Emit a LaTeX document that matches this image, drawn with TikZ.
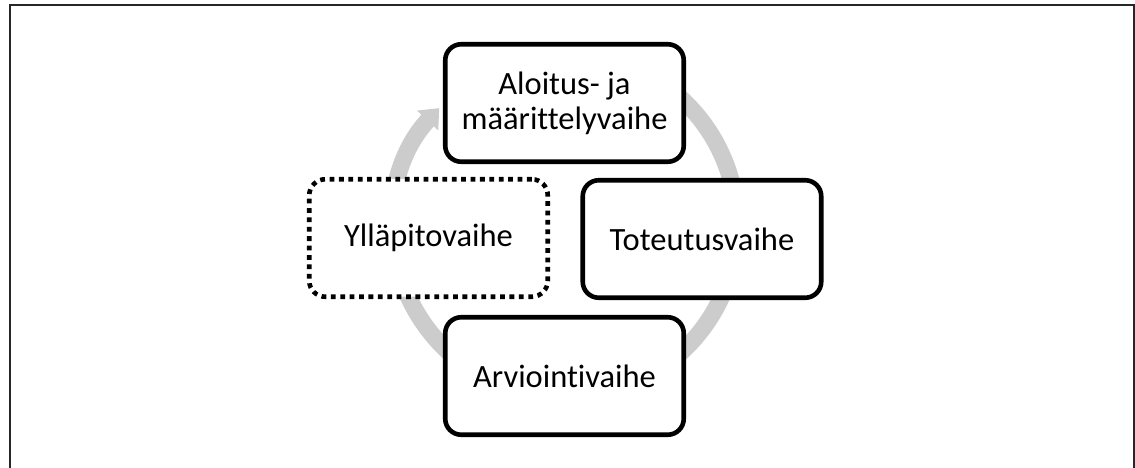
\documentclass[tikz,border=0pt]{standalone}
\usepackage{fontspec}
\setmainfont{Carlito}[Ligatures={NoCommon}]
\usetikzlibrary{arrows.meta}
\definecolor{ringgray}{RGB}{204,204,204}
\begin{document}
\begin{tikzpicture}[x=1pt,y=1pt,
  phase/.style={draw=black, line width=4.6pt, fill=white, rounded corners=16pt,
    minimum width=238.5pt, minimum height=117.5pt, inner sep=0pt, align=center,
    font=\fontsize{32.5}{35}\selectfont},
  dotphase/.style={phase, dash pattern=on 4.8pt off 4.6pt},
  ring/.style={draw=ringgray, line width=17pt},
]
\useasboundingbox (0,0) rectangle (1135,468);
% outer frame (open at the bottom)
\draw[line width=2pt, draw=black!85] (9.5,0) -- (9.5,462.5) -- (1133.5,462.5) -- (1133.5,0);
% cycle ring with its arrow head
\coordinate (hub) at (565,242.6);
\draw[ring, -{Triangle[width=28pt,length=17pt]}] (hub) ++(127:172) arc[start angle=487, end angle=137, radius=172];
% phases
\node[phase] (start) at (564.5,365) {Aloitus- ja\\määrittelyvaihe};
\node[phase] (build) at (702,229) {Toteutusvaihe};
\node[phase] (review) at (564.5,92) {Arviointivaihe};
\node[dotphase] (upkeep) at (428.5,230) {Ylläpitovaihe};
\end{tikzpicture}
\end{document}
